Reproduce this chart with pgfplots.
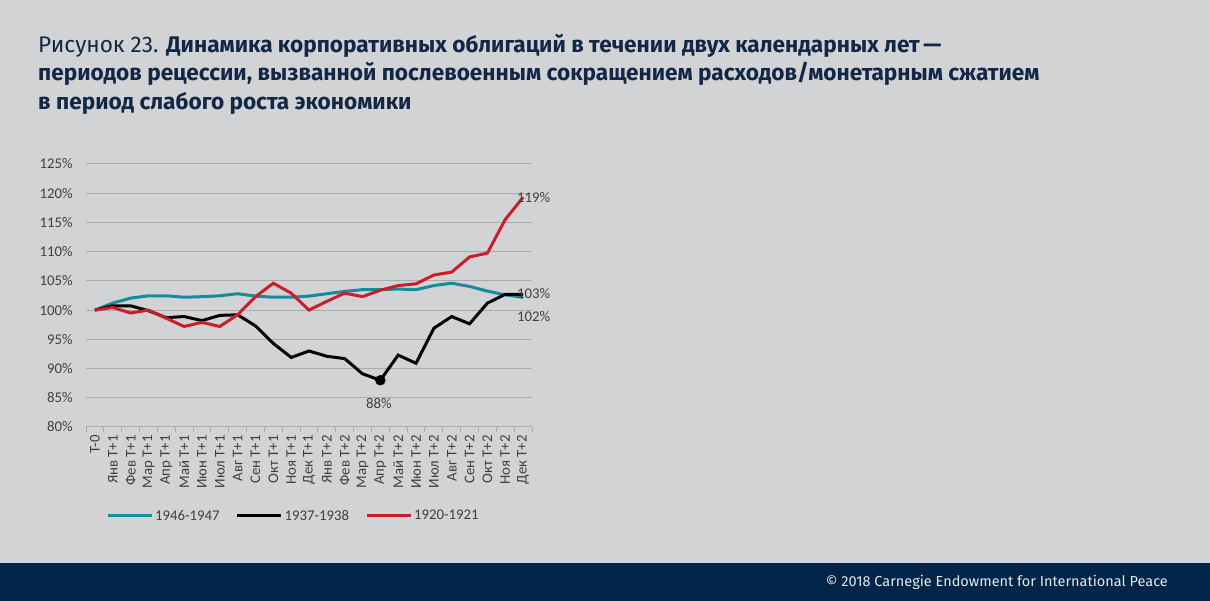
\documentclass[border=0pt]{standalone}
\usepackage{pgfplots}
\pgfplotsset{compat=1.18}
\usepackage{fontspec}
\setmainfont{Fira Sans}
\newfontfamily\calibri{Carlito}
\definecolor{bgc}{RGB}{209,211,213}
\definecolor{navy}{RGB}{0,37,73}
\definecolor{titlec}{RGB}{18,38,70}
\definecolor{tealc}{RGB}{22,140,155}
\definecolor{redc}{RGB}{206,28,40}
\definecolor{gridc}{RGB}{170,171,173}
\definecolor{txtc}{RGB}{64,64,64}
\newcommand\chfont{\calibri\fontsize{14.8}{17}\selectfont}
\begin{document}
\begin{tikzpicture}
\fill[bgc] (0pt,0pt) rectangle (1210pt,601pt);
\useasboundingbox (0pt,0pt) rectangle (1210pt,601pt);
\fill[navy] (0pt,0pt) rectangle (1210pt,38pt);
\node[anchor=base east, inner sep=0pt, text=white!90!navy, font=\fontsize{14.5}{17}\selectfont] at (1168pt,14pt) {\textcopyright{} 2018 Carnegie Endowment for International Peace};
\begin{scope}[every node/.style={anchor=base west, inner sep=0pt, text=titlec, font=\fontsize{22.6}{26}\selectfont}]
\node at (38pt,548.7pt) {Рисунок 23. \textbf{Динамика корпоративных облигаций в течении двух календарных лет\,—}};
\node at (38pt,520pt) {\textbf{периодов рецессии, вызванной послевоенным сокращением расходов/монетарным сжатием}};
\node at (38pt,491.7pt) {\textbf{в период слабого роста экономики}};
\end{scope}
\begin{axis}[
  at={(86pt,174pt)}, anchor=south west,
  scale only axis, width=446pt, height=263pt,
  xmin=-0.5, xmax=24.5, ymin=80, ymax=125,
  axis x line*=bottom, axis y line*=left,
  y axis line style={draw=none},
  x axis line style={draw=gridc, line width=1pt},
  ytick={80,85,...,125},
  yticklabel={\pgfmathprintnumber{\tick}\%},
  ymajorgrids, grid style={draw=gridc, line width=1pt},
  xtick={0,...,24},
  xticklabels={T-0,Янв T+1,Фев T+1,Мар T+1,Апр T+1,Май T+1,Июн T+1,Июл T+1,Авг T+1,Сен T+1,Окт T+1,Ноя T+1,Дек T+1,Янв T+2,Фев T+2,Мар T+2,Апр T+2,Май T+2,Июн T+2,Июл T+2,Авг T+2,Сен T+2,Окт T+2,Ноя T+2,Дек T+2},
  minor xtick={-0.5,0.5,...,24.5},
  major tick length=0pt, minor tick length=5pt,
  tick align=outside, xtick pos=bottom, ytick pos=left,
  minor tick style={draw=gridc, line width=1pt},
  x tick label style={rotate=90, anchor=east, xshift=-7pt, inner sep=1pt},
  y tick label style={anchor=east, xshift=-12pt, inner sep=1pt},
  tick label style={font=\chfont, text=txtc},
  /pgf/number format/assume math mode=true,
  legend columns=3,
  legend style={at={(axis description cs:0.0445,-0.338)}, anchor=west, draw=none, fill=none, inner sep=0pt,
     font=\chfont, text=txtc,
     /tikz/every even column/.append style={column sep=14pt}},
  legend image code/.code={\draw[#1, line width=3pt] (0pt,0pt) -- (44pt,0pt);},
  clip=false,
]
\addplot[tealc, line width=3pt] coordinates {
(0,100) (1,101.2) (2,102.05) (3,102.45) (4,102.45) (5,102.2) (6,102.3) (7,102.45) (8,102.8) (9,102.4) (10,102.2) (11,102.2) (12,102.4) (13,102.8) (14,103.2) (15,103.5) (16,103.5) (17,103.6) (18,103.5) (19,104.2) (20,104.6) (21,104.05) (22,103.25) (23,102.6) (24,102.2)};
\addlegendentry{1946-1947}
\addplot[black, line width=3pt] coordinates {
(0,100) (1,100.74) (2,100.74) (3,99.9) (4,98.7) (5,98.9) (6,98.2) (7,99.1) (8,99.2) (9,97.3) (10,94.3) (11,91.9) (12,93.0) (13,92.1) (14,91.7) (15,89.1) (16,88.0) (17,92.3) (18,90.9) (19,96.9) (20,98.9) (21,97.65) (22,101.2) (23,102.7) (24,102.7)};
\addlegendentry{1937-1938}
\addplot[redc, line width=3pt] coordinates {
(0,100) (1,100.45) (2,99.5) (3,100) (4,98.6) (5,97.2) (6,97.9) (7,97.2) (8,99.2) (9,102.3) (10,104.6) (11,102.9) (12,100) (13,101.5) (14,102.9) (15,102.3) (16,103.4) (17,104.2) (18,104.5) (19,106.0) (20,106.5) (21,109.1) (22,109.75) (23,115.5) (24,119.3)};
\addlegendentry{1920-1921}
\addplot[black, only marks, mark=*, mark size=5pt, forget plot] coordinates {(16,88)};
\node[anchor=west, inner sep=0pt, font=\chfont, text=txtc] at (axis cs:23.66,119.2) {119\%};
\node[anchor=west, inner sep=0pt, font=\chfont, text=txtc] at (axis cs:23.66,102.76) {103\%};
\node[anchor=west, inner sep=0pt, font=\chfont, text=txtc] at (axis cs:23.66,98.87) {102\%};
\node[anchor=center, inner sep=0pt, font=\chfont, text=txtc] at (axis cs:15.92,84.1) {88\%};
\end{axis}
\end{tikzpicture}
\end{document}
